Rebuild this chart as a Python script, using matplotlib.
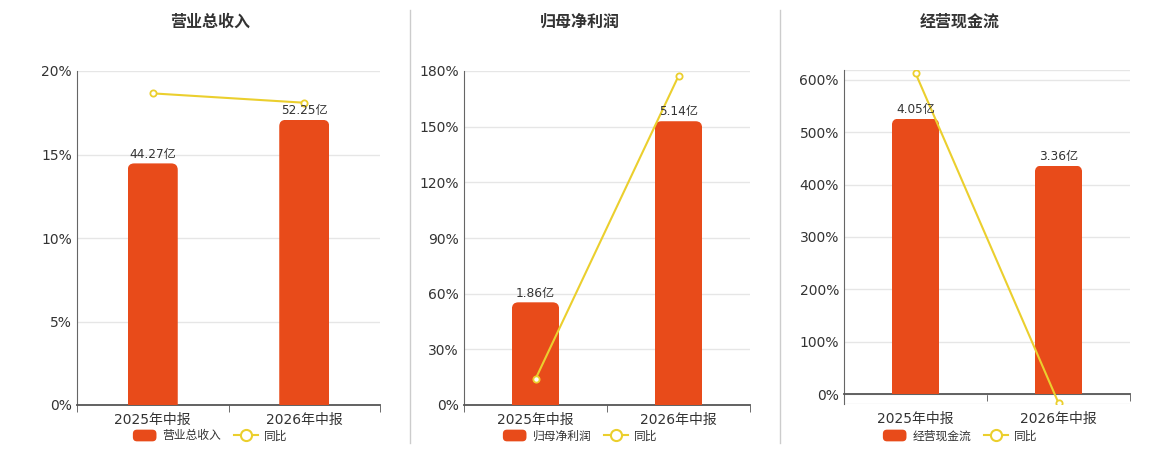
import numpy as np
import matplotlib
matplotlib.use('Agg')
import matplotlib.pyplot as plt
from matplotlib.patches import FancyBboxPatch, Patch
from matplotlib.lines import Line2D
from matplotlib.legend_handler import HandlerPatch

plt.rcParams['font.family'] = ['DejaVu Sans', 'Noto Sans CJK SC']

# данные
categories = ['2025年中报', '2026年中报']
titles = ['营业总收入', '归母净利润', '经营现金流']

revenue = [44.27, 52.25]
revenue_yoy = [18.66, 18.10]

profit = [1.86, 5.14]
profit_yoy = [14.0, 177.3]

cash = [4.05, 3.36]
cash_yoy = [613.0, -17.0]

series = [revenue, profit, cash]
yoy_series = [revenue_yoy, profit_yoy, cash_yoy]

# оси
pct_limits = [(0, 20), (0, 180), (-19, 619)]
pct_ticks = [np.arange(0, 21, 5), np.arange(0, 181, 30), np.arange(0, 601, 100)]
bar_limits = [(0, 61.2), (0, 6.05), (-0.146, 4.766)]

W, H = 1160, 450
axes_px = [(77, 71, 380, 405), (464, 71, 750, 405), (844, 70, 1130, 404)]
center_px = [210, 580, 960]

bar_color = '#E84B1A'
line_color = '#EBCF2E'
text_color = '#333333'


class RoundHandler(HandlerPatch):
    # скруглённый прямоугольник в легенде
    def create_artists(self, legend, orig_handle, xdescent, ydescent, width, height,
                       fontsize, trans):
        p = FancyBboxPatch((-xdescent, -ydescent), width, height,
                           boxstyle='round,pad=0,rounding_size=3',
                           fc=orig_handle.get_facecolor(), ec='none', transform=trans)
        return [p]


fig = plt.figure(figsize=(W / 100, H / 100), dpi=100)

for i in range(3):
    l, t, r, b = axes_px[i]
    ax = fig.add_axes([l / W, 1 - b / H, (r - l) / W, (b - t) / H])
    x = np.arange(len(categories))
    lo, hi = pct_limits[i]

    ax.set_xlim(-0.5, 1.5)
    ax.set_ylim(lo, hi)
    ax.set_yticks(pct_ticks[i])
    ax.set_yticklabels([f'{int(v)}%' for v in pct_ticks[i]])
    ax.grid(axis='y', color='#e6e6e6', lw=1)
    ax.set_axisbelow(True)
    for v in (lo, hi):
        if v not in pct_ticks[i]:
            ax.axhline(v, color='#e6e6e6', lw=1, zorder=0)

    ax.spines['top'].set_visible(False)
    ax.spines['right'].set_visible(False)
    ax.spines['left'].set_color('#666666')
    ax.spines['bottom'].set_color('#555555')
    ax.spines['bottom'].set_linewidth(1.3)
    ax.spines['bottom'].set_position(('data', 0))

    zero_off = (0 - lo) / (hi - lo) * (b - t) / 1.389
    ax.set_xticks(x)
    ax.set_xticklabels(categories)
    ax.set_xticks([-0.5, 0.5, 1.5], minor=True)
    ax.tick_params(axis='x', which='major', length=0, pad=5.5 + zero_off,
                   labelsize=10, labelcolor=text_color)
    ax.tick_params(axis='x', which='minor', length=5, color='#555555')
    ax.tick_params(axis='y', length=0, pad=3.6, labelsize=10, labelcolor=text_color)

    # столбцы на своей шкале
    axb = ax.twinx()
    axb.axis('off')
    bars = axb.bar(x, series[i], width=0.33, color=bar_color, zorder=2)
    blo, bhi = bar_limits[i]
    axb.set_ylim(blo, bhi)

    xpp = 2 / (r - l)
    ypp = (bhi - blo) / (b - t)
    rad = 6.5 * xpp
    aspect = ypp / xpp
    for rect in bars:
        rect.set_visible(False)
        fb = FancyBboxPatch((rect.get_x(), -8 * ypp), rect.get_width(),
                            rect.get_height() + 8 * ypp,
                            boxstyle=f'round,pad=0,rounding_size={rad}',
                            mutation_aspect=aspect, fc=bar_color, ec='none', zorder=2)
        axb.add_patch(fb)
        fb.set_clip_path(rect)

    for xi, v in zip(x, series[i]):
        axb.annotate(f'{v:.2f}亿', (xi, v), xytext=(0, 2), textcoords='offset points',
                     ha='center', va='bottom', fontsize=8.7, color=text_color, zorder=4)

    axb.plot(x, yoy_series[i], transform=ax.transData, color=line_color, lw=1.5,
             marker='o', ms=4.5, mfc='white', mec=line_color, mew=1.3, zorder=3)
    axb.set_ylim(blo, bhi)
    axb.set_xlim(-0.5, 1.5)

    cx = center_px[i] / W
    fig.text(cx, 1 - 22 / H, titles[i], ha='center', va='center', fontsize=11.5,
             fontweight='bold', color=text_color)

    handles = [Patch(fc=bar_color, ec='none', label=titles[i]),
               Line2D([], [], color=line_color, lw=1.5, marker='o', ms=8, mfc='white',
                      mec=line_color, mew=1.5, label='同比')]
    fig.legend(handles=handles, loc='center', bbox_to_anchor=(cx, 1 - 436 / H), ncol=2,
               frameon=False, fontsize=8.5, handlelength=2.0, handleheight=1.15,
               handletextpad=0.5, columnspacing=1.1, labelcolor=text_color,
               borderpad=0, borderaxespad=0, handler_map={Patch: RoundHandler()})

# разделители
for sx in (410, 780):
    fig.add_artist(Line2D([sx / W, sx / W], [1 - 10 / H, 1 - 443 / H], color='#cccccc',
                          lw=1, transform=fig.transFigure))

fig.savefig('out.png', dpi=100)
